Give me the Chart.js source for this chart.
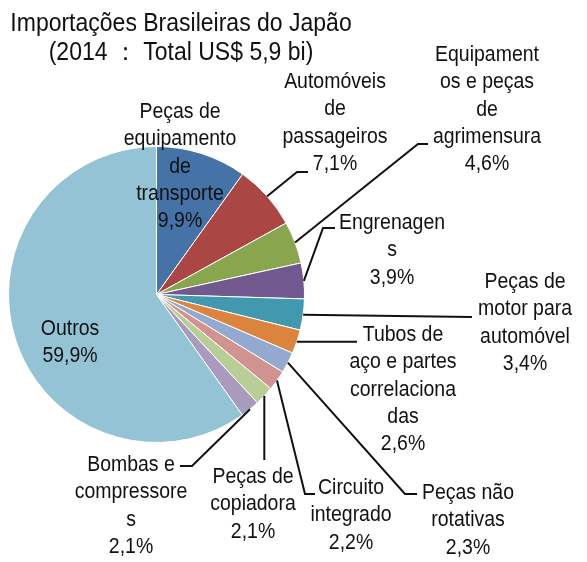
<!DOCTYPE html>
<html>
<head>
<meta charset="utf-8">
<script src="https://cdn.jsdelivr.net/npm/chart.js@4/dist/chart.umd.min.js"></script>
<style>
html,body{margin:0;padding:0;background:#fff;}
canvas{display:block;}
</style>
</head>
<body>
<canvas id="c" width="587" height="562"></canvas>
<script>
// ---- data ----
const titleLines = ['Importações Brasileiras do Japão', '(2014 ： Total US$ 5,9 bi)'];
const categories = [
  ['Peças de', 'equipamento', 'de', 'transporte'],
  ['Automóveis', 'de', 'passageiros'],
  ['Equipament', 'os e peças', 'de', 'agrimensura'],
  ['Engrenagen', 's'],
  ['Peças de', 'motor para', 'automóvel'],
  ['Tubos de', 'aço e partes', 'correlaciona', 'das'],
  ['Peças não', 'rotativas'],
  ['Circuito', 'integrado'],
  ['Peças de', 'copiadora'],
  ['Bombas e', 'compressore', 's'],
  ['Outros']
];
const shares = [9.9, 7.1, 4.6, 3.9, 3.4, 2.6, 2.3, 2.2, 2.1, 2.1, 59.9];
const colors = ['#4572A7', '#AA4643', '#89A54E', '#71588F', '#4198AF', '#DB843D',
                '#93A9CF', '#D19392', '#B9CD96', '#A99BBD', '#93C3D5'];

// ---- label layout (text block centre x, first line y, leader path) ----
const labelLayout = [
  {x: 180, y: 112, path: null},
  {x: 335, y: 82,  path: [[297, 172], [308, 172]]},
  {x: 487, y: 55,  path: [[418, 144], [428, 144]]},
  {x: 392, y: 223, path: [[323, 228], [335, 228]]},
  {x: 525, y: 282, path: [[472, 317]]},
  {x: 403, y: 335, path: [[357, 'same']]},
  {x: 468, y: 493, path: [[405, 494], [417, 494]]},
  {x: 351, y: 488, path: [[305, 494], [315, 494]]},
  {x: 253, y: 477, path: [['same', 460]]},
  {x: 131, y: 465, path: [[192, 466], [180, 466]]},
  {x: 70,  y: 329, path: null}
];

const FONT = '"Liberation Sans", Arial, sans-serif';
const LABEL_SIZE = 22, LABEL_SX = 0.885, LINE_H = 27.3;
const TITLE_SIZE = 25, TITLE_SX = 0.92;

function drawText(ctx, str, x, y, size, sx) {
  ctx.save();
  ctx.font = size + 'px ' + FONT;
  ctx.textAlign = 'center';
  ctx.textBaseline = 'middle';
  ctx.translate(x, y);
  ctx.scale(sx, 1);
  ctx.fillText(str, 0, 0);
  ctx.restore();
}

const labelPlugin = {
  id: 'labelPlugin',
  afterDatasetsDraw(chart) {
    const ctx = chart.ctx;
    const meta = chart.getDatasetMeta(0);
    ctx.save();
    ctx.fillStyle = '#111';
    ctx.strokeStyle = '#111';
    ctx.lineWidth = 2;
    // title
    titleLines.forEach((t, i) => drawText(ctx, t, 181, 24 + i * 29, TITLE_SIZE, TITLE_SX));
    meta.data.forEach((arc, i) => {
      const p = arc.getProps(['x', 'y', 'startAngle', 'endAngle', 'outerRadius'], true);
      const mid = (p.startAngle + p.endAngle) / 2;
      const sx0 = p.x + Math.cos(mid) * p.outerRadius;
      const sy0 = p.y + Math.sin(mid) * p.outerRadius;
      const L = labelLayout[i];
      if (L.path) {
        ctx.beginPath();
        ctx.moveTo(sx0, sy0);
        L.path.forEach(pt => {
          const px = pt[0] === 'same' ? sx0 : pt[0];
          const py = pt[1] === 'same' ? sy0 : pt[1];
          ctx.lineTo(px, py);
        });
        ctx.stroke();
      }
      const lines = categories[i].concat([shares[i].toFixed(1).replace('.', ',') + '%']);
      lines.forEach((ln, k) => drawText(ctx, ln, L.x, L.y + k * LINE_H, LABEL_SIZE, LABEL_SX));
    });
    ctx.restore();
  }
};

new Chart(document.getElementById('c'), {
  type: 'pie',
  data: {
    labels: categories,
    datasets: [{
      data: shares,
      backgroundColor: colors,
      borderColor: '#ffffff',
      borderWidth: 1
    }]
  },
  options: {
    responsive: false,
    devicePixelRatio: 1,
    animation: false,
    events: [],
    layout: {padding: {left: 8, top: 146, right: 282, bottom: 119}},
    plugins: {legend: {display: false}, tooltip: {enabled: false}, title: {display: false}}
  },
  plugins: [labelPlugin]
});
</script>
</body>
</html>
